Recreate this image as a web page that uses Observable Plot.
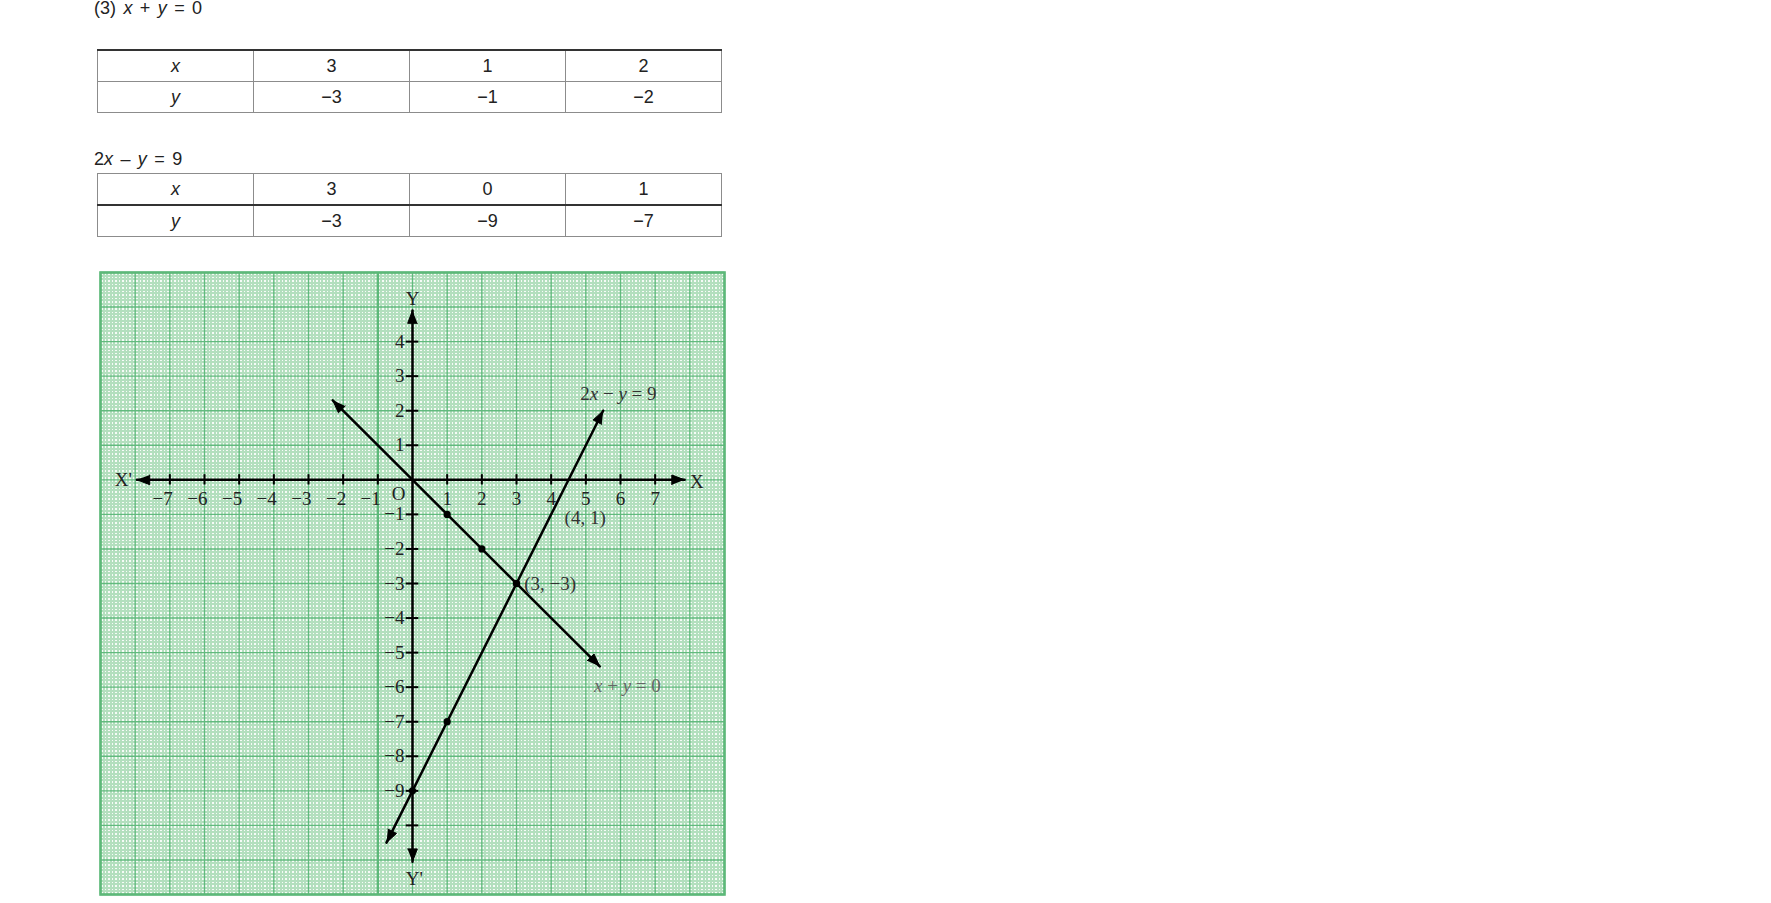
<!DOCTYPE html>
<html><head><meta charset="utf-8">
<script src="https://cdn.jsdelivr.net/npm/d3@7"></script>
<script src="https://cdn.jsdelivr.net/npm/@observablehq/plot@0.6"></script>
<style>
html,body{margin:0;padding:0;background:#fff;}
body{width:1771px;height:903px;overflow:hidden;position:relative;}
.txt{position:absolute;font-family:"Liberation Sans",Arial,sans-serif;font-size:18px;color:#222;line-height:20px;white-space:nowrap;word-spacing:2.4px;}
table{position:absolute;border-collapse:collapse;table-layout:fixed;font-family:"Liberation Sans",Arial,sans-serif;font-size:18px;color:#222;}
td{border:1px solid #8c8c8c;text-align:center;vertical-align:middle;padding:0;height:30px;width:155px;line-height:20px;}
#t1 tr:first-child td{border-top:2px solid #333;}
#t2 tr:last-child td{border-top:2px solid #333;}
#graph{position:absolute;left:95px;top:267px;}
</style></head><body>
<div id="title" class="txt" style="left:94px;top:-2px;"></div>
<table id="t1" style="left:97px;top:49px;width:625px;"></table>
<div id="eq2" class="txt" style="left:94px;top:149px;"></div>
<table id="t2" style="left:97px;top:173px;width:625px;"></table>
<div id="graph"></div>
<script>
// ---- data ----
const titleText = "(3) x + y = 0";
const eq2Text = "2x – y = 9";
const rowLabels = ["x", "y"];
const table1X = [3, 1, 2];
const table1Y = [-3, -1, -2];
const table2X = [3, 0, 1];
const table2Y = [-3, -9, -7];

const line1Tips = [[-2.3, 2.3], [5.4, -5.4]];     // x + y = 0
const line2Tips = [[-0.75, -10.5], [5.5, 2]];     // 2x - y = 9
const xAxisTips = [-7.95, 7.85];
const yAxisTips = [-11.05, 4.9];
const xTicks = [-7, -6, -5, -4, -3, -2, -1, 1, 2, 3, 4, 5, 6, 7];
const yTicks = [4, 3, 2, 1, -1, -2, -3, -4, -5, -6, -7, -8, -9, -10];
const yTickLabels = [4, 3, 2, 1, -1, -2, -3, -4, -5, -6, -7, -8, -9];
const axisNames = [
  {label: "X'", x: -8.34, y: 0.0},
  {label: "X", x: 8.2, y: -0.05},
  {label: "Y", x: 0.0, y: 5.25},
  {label: "Y'", x: 0.05, y: -11.56}
];
const centeredNotes = [
  {label: "2x − y = 9", x: 5.94, y: 2.5, color: "#333"},
  {label: "(4, 1)", x: 4.98, y: -1.1, color: "#333"},
  {label: "x + y = 0", x: 6.2, y: -5.95, color: "#666"}
];
const startNotes = [
  {label: "(3, −3)", x: 3.22, y: -3.0, color: "#333"}
];

const fmt = v => v < 0 ? "−" + Math.abs(v) : String(v);

// ---- HTML text + tables ----
function italicHTML(s) {
  return s.split(/([xy])/).map(p => (p === "x" || p === "y") ? `<i>${p}</i>` : p).join("");
}
document.getElementById("title").innerHTML = italicHTML(titleText);
document.getElementById("eq2").innerHTML = italicHTML(eq2Text);
function fillTable(id, xs, ys) {
  const t = d3.select("#" + id);
  [xs, ys].forEach((vals, i) => {
    const tr = t.append("tr");
    tr.append("td").append("i").text(rowLabels[i]);
    vals.forEach(v => tr.append("td").text(fmt(v)));
  });
}
fillTable("t1", table1X, table1Y);
fillTable("t2", table2X, table2Y);

// ---- graph ----
const minor = d3.range(-90, 91).filter(i => i % 10 !== 0).map(i => i / 10);
const minorY = d3.range(-120, 61).filter(i => i % 10 !== 0).map(i => i / 10);
const majorX = d3.range(-9, 10);
const majorY = d3.range(-12, 7);

function head(tip, from, id, L = 0.37, W = 0.14) {
  const dx = tip[0] - from[0], dy = tip[1] - from[1];
  const len = Math.hypot(dx, dy), ux = dx / len, uy = dy / len;
  const bx = tip[0] - L * ux, by = tip[1] - L * uy;
  return [
    {id, x: tip[0], y: tip[1]},
    {id, x: bx - W * uy, y: by + W * ux},
    {id, x: bx + W * uy, y: by - W * ux}
  ];
}
const xa = [[xAxisTips[0], 0], [xAxisTips[1], 0]];
const ya = [[0, yAxisTips[0]], [0, yAxisTips[1]]];
const heads = [
  ...head(xa[0], xa[1], "xl"), ...head(xa[1], xa[0], "xr"),
  ...head(ya[0], ya[1], "yb"), ...head(ya[1], ya[0], "yt"),
  ...head(line1Tips[0], line1Tips[1], "l1a"), ...head(line1Tips[1], line1Tips[0], "l1b"),
  ...head(line2Tips[0], line2Tips[1], "l2a"), ...head(line2Tips[1], line2Tips[0], "l2b")
];
const segs = [
  ...xa.map(p => ({id: "xa", x: p[0], y: p[1]})),
  ...ya.map(p => ({id: "ya", x: p[0], y: p[1]})),
  ...line1Tips.map(p => ({id: "l1", x: p[0], y: p[1]})),
  ...line2Tips.map(p => ({id: "l2", x: p[0], y: p[1]}))
];
const points = [
  ...table1X.map((x, i) => ({x, y: table1Y[i]})),
  ...table2X.map((x, i) => ({x, y: table2Y[i]}))
];

const serif = "'Liberation Serif','Times New Roman',serif";
const FS = 19;
const chart = Plot.plot({
  width: 634, height: 632,
  marginTop: 5, marginBottom: 5, marginLeft: 5, marginRight: 5,
  x: {domain: [-9, 9], axis: null},
  y: {domain: [-12, 6], axis: null},
  style: {background: "transparent", fontFamily: serif},
  marks: [
    Plot.frame({fill: "#f6fbf7"}),
    Plot.ruleX(minor, {stroke: "#b3dfbe", strokeWidth: 2, shapeRendering: "crispEdges"}),
    Plot.ruleY(minorY, {stroke: "#b3dfbe", strokeWidth: 2, shapeRendering: "crispEdges"}),
    Plot.ruleX(majorX, {stroke: "#62ba7e", strokeWidth: 1.4}),
    Plot.ruleY(majorY, {stroke: "#62ba7e", strokeWidth: 1.4}),
    Plot.ruleX([-1], {stroke: "#5db879", strokeWidth: 2.4}),
    Plot.frame({stroke: "#5db879", strokeWidth: 2.6}),
    Plot.ruleX(xTicks, {y1: -0.15, y2: 0.15, stroke: "#000", strokeWidth: 2}),
    Plot.ruleY(yTicks, {x1: -0.18, x2: 0.18, stroke: "#000", strokeWidth: 2}),
    Plot.line(segs, {x: "x", y: "y", z: "id", stroke: "#000", strokeWidth: 2.5}),
    Plot.line(heads, {x: "x", y: "y", z: "id", fill: "#000", stroke: "#000", strokeWidth: 1, strokeLinejoin: "miter"}),
    Plot.dot(points, {x: "x", y: "y", r: 3.6, fill: "#000"}),
    Plot.text(xTicks.filter(v => v < 0), {x: d => d, y: 0, text: fmt, dy: 19, dx: 3, textAnchor: "end", fontSize: FS, fill: "#222"}),
    Plot.text(xTicks.filter(v => v > 0), {x: d => d, y: 0, text: fmt, dy: 19, textAnchor: "middle", fontSize: FS, fill: "#222"}),
    Plot.text(yTickLabels, {x: 0, y: d => d, text: fmt, dx: -8, textAnchor: "end", fontSize: FS, fill: "#222"}),
    Plot.text(["O"], {x: 0, y: 0, text: d => d, dx: -14, dy: 14, fontSize: FS, fill: "#222"}),
    Plot.text(axisNames, {x: "x", y: "y", text: "label", fontSize: FS, fill: "#222"}),
    Plot.text(centeredNotes, {x: "x", y: "y", text: "label", textAnchor: "middle", fontSize: FS, fill: d => d.color}),
    Plot.text(startNotes, {x: "x", y: "y", text: "label", textAnchor: "start", fontSize: FS, fill: d => d.color})
  ]
});
// italicise variable letters in annotation texts
d3.select(chart).selectAll("text").each(function () {
  const t = this.textContent;
  if (!/[xy]/.test(t)) return;
  const el = d3.select(this);
  el.text(null);
  t.split(/([xy])/).filter(p => p !== "").forEach(p => {
    const ts = el.append("tspan").text(p);
    if (p === "x" || p === "y") ts.attr("font-style", "italic");
  });
});
document.getElementById("graph").appendChild(chart);
</script>
</body></html>
